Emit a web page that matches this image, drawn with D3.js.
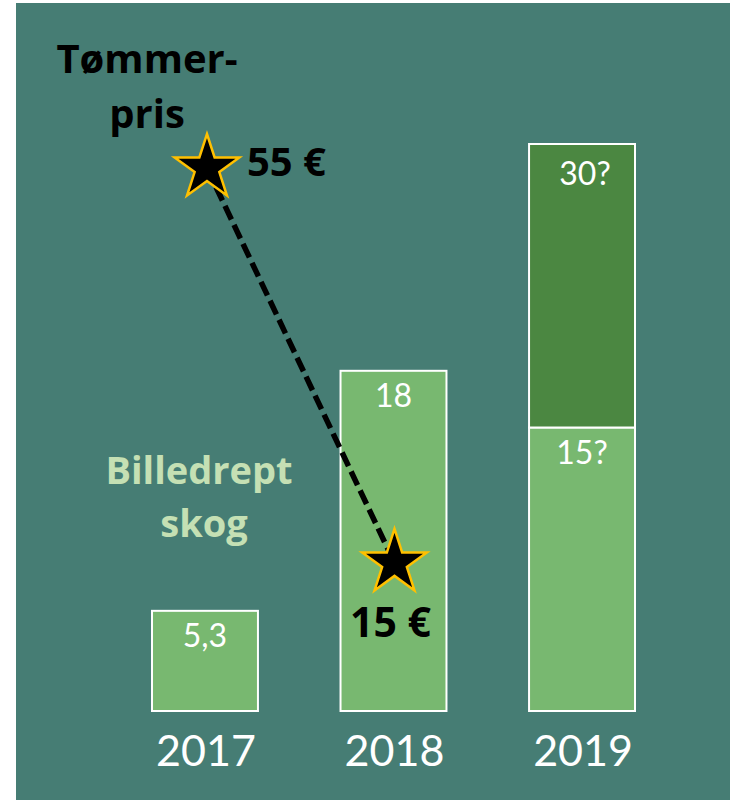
<!DOCTYPE html>
<html>
<head>
<meta charset="utf-8">
<script src="https://cdn.jsdelivr.net/npm/d3@7"></script>
<style>
  html, body { margin: 0; padding: 0; background: #ffffff; }
  svg { display: block; }
  text { font-family: Lato, "Open Sans", sans-serif; }
  text.bold { font-family: "Open Sans", Lato, sans-serif; font-weight: bold; }
</style>
</head>
<body>
<div id="chart"></div>
<script>
// ---- data ----
const years = ["2017", "2018", "2019"];
const beetleBase = [5.3, 18, 15];      // billedrept skog, known / base
const beetleExtra = [0, 0, 15];        // extra uncertain part (2019)
const baseLabels = ["5,3", "18", "15?"];
const totalLabels = [null, null, "30?"];
const priceYears = ["2017", "2018"];
const prices = [55, 15];
const priceLabels = ["55 €", "15 €"];

// ---- setup ----
const W = 730, H = 800;
const svg = d3.select("#chart").append("svg").attr("width", W).attr("height", H);

svg.append("rect").attr("x", 16).attr("y", 3).attr("width", W - 16).attr("height", H - 3)
  .attr("fill", "#467D74");

const x = d3.scaleBand().domain(years).range([152, 635]).paddingInner(0.438).paddingOuter(0);
const yBar = d3.scaleLinear().domain([0, 30]).range([711, 144]);
const yPrice = d3.scaleLinear().domain([0, 55]).range([711, 168]);

const rows = years.map((yr, i) => ({
  year: yr, base: beetleBase[i], extra: beetleExtra[i],
  baseLabel: baseLabels[i], totalLabel: totalLabels[i]
}));

// ---- bars ----
const g = svg.append("g");
g.selectAll("rect.base").data(rows).join("rect")
  .attr("class", "base")
  .attr("x", d => x(d.year))
  .attr("width", x.bandwidth())
  .attr("y", d => yBar(d.base))
  .attr("height", d => yBar(0) - yBar(d.base))
  .attr("fill", "#78B870")
  .attr("stroke", "#ffffff").attr("stroke-width", 2);

g.selectAll("rect.extra").data(rows.filter(d => d.extra > 0)).join("rect")
  .attr("class", "extra")
  .attr("x", d => x(d.year))
  .attr("width", x.bandwidth())
  .attr("y", d => yBar(d.base + d.extra))
  .attr("height", d => yBar(d.base) - yBar(d.base + d.extra))
  .attr("fill", "#4B8741")
  .attr("stroke", "#ffffff").attr("stroke-width", 2);

// bar value labels
g.selectAll("text.blab").data(rows).join("text")
  .attr("class", "blab")
  .attr("x", d => x(d.year) + x.bandwidth() / 2)
  .attr("y", d => yBar(d.base) + 36)
  .attr("text-anchor", "middle")
  .attr("fill", "#ffffff")
  .attr("font-size", 32)
  .text(d => d.baseLabel);

g.selectAll("text.tlab").data(rows.filter(d => d.totalLabel)).join("text")
  .attr("class", "tlab")
  .attr("x", d => x(d.year) + x.bandwidth() / 2 + 3)
  .attr("y", d => yBar(d.base + d.extra) + 41)
  .attr("text-anchor", "middle")
  .attr("fill", "#ffffff")
  .attr("font-size", 32)
  .text(d => d.totalLabel);

// year axis labels
svg.selectAll("text.year").data(years).join("text")
  .attr("class", "year")
  .attr("x", d => x(d) + x.bandwidth() / 2 + 1)
  .attr("y", 766)
  .attr("text-anchor", "middle")
  .attr("fill", "#ffffff")
  .attr("font-size", 43)
  .text(d => d);

// ---- price line ----
const pts = priceYears.map((yr, i) => ({
  x: x(yr) + x.bandwidth() / 2 + (i === 0 ? 2 : 1),
  y: yPrice(prices[i]),
  label: priceLabels[i]
}));

svg.append("path")
  .attr("d", d3.line().x(d => d.x).y(d => d.y)(pts))
  .attr("fill", "none")
  .attr("stroke", "#000000")
  .attr("stroke-width", 5.5)
  .attr("stroke-dasharray", "15,6");

const R = 34;
const starSize = R * R / 0.8908130915292852;
svg.selectAll("path.star").data(pts).join("path")
  .attr("class", "star")
  .attr("transform", d => `translate(${d.x},${d.y})`)
  .attr("d", d3.symbol(d3.symbolStar, starSize)())
  .attr("fill", "#000000")
  .attr("stroke", "#FFC000")
  .attr("stroke-width", 2.5)
  .attr("stroke-linejoin", "miter");

// price labels
svg.append("text").attr("class", "bold")
  .attr("x", pts[0].x + 40).attr("y", pts[0].y + 8)
  .attr("font-size", 40).attr("fill", "#000")
  .text(pts[0].label);
svg.append("text").attr("class", "bold")
  .attr("x", pts[1].x - 4).attr("y", pts[1].y + 74)
  .attr("text-anchor", "middle")
  .attr("font-size", 41).attr("fill", "#000")
  .text(pts[1].label);

// ---- titles ----
const t1 = svg.append("text").attr("class", "bold").attr("text-anchor", "middle")
  .attr("font-size", 40).attr("fill", "#000");
t1.append("tspan").attr("x", 147).attr("y", 73).text("Tømmer-");
t1.append("tspan").attr("x", 147).attr("y", 128).text("pris");

const t2 = svg.append("text").attr("class", "bold").attr("text-anchor", "middle")
  .attr("font-size", 38).attr("fill", "#C5E0B4");
t2.append("tspan").attr("x", 199).attr("y", 484).text("Billedrept");
t2.append("tspan").attr("x", 204).attr("y", 537).text("skog");
</script>
</body>
</html>
